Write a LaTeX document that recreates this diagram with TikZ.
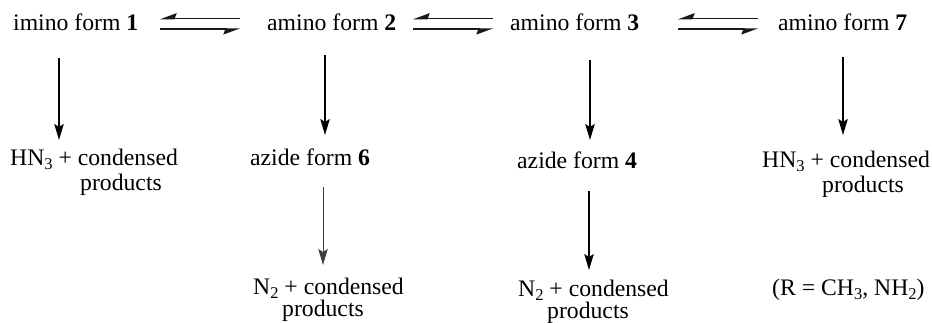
\documentclass[tikz,border=0pt]{standalone}
\usepackage{fontspec}
\setmainfont{Liberation Serif}
\usetikzlibrary{arrows.meta}
\newcommand{\chsub}[1]{\raisebox{-4pt}{\fontsize{16.5}{16.5}\selectfont #1}}
\tikzset{
  lbl/.style={anchor=base west, inner sep=0pt, font=\fontsize{23.7}{25}\selectfont},
  arr/.style={line width=1.3pt, -{Stealth[length=16pt,width=9.5pt,inset=3pt]}},
  thinarr/.style={line width=0.9pt, draw=black!75, -{Stealth[length=16pt,width=9.5pt,inset=3pt]}},
  eqline/.style={line width=1.2pt, draw=black!90, -{Stealth[harpoon,swap,length=15pt,width=11pt,inset=2pt]}}
}
\begin{document}
\begin{tikzpicture}[x=1pt,y=-1pt]
\useasboundingbox[fill=white] (0,0) rectangle (932,322);
% top row
\node[lbl] (f1) at (13,30) {imino form \textbf{1}};
\node[lbl] (f2) at (267,30) {amino form \textbf{2}};
\node[lbl] (f3) at (510,30) {amino form \textbf{3}};
\node[lbl] (f7) at (778,30) {amino form \textbf{7}};
% equilibrium arrows
\coordinate (e1a) at (160,18.7); \coordinate (e1b) at (240,18.7);
\coordinate (e1c) at (160,29);   \coordinate (e1d) at (240,29);
\coordinate (e2a) at (413,18.7); \coordinate (e2b) at (493,18.7);
\coordinate (e2c) at (413,29);   \coordinate (e2d) at (493,29);
\coordinate (e3a) at (678,18.7); \coordinate (e3b) at (758,18.7);
\coordinate (e3c) at (678,29);   \coordinate (e3d) at (758,29);
\draw[eqline] (e1b) -- (e1a);
\draw[eqline] (e1c) -- (e1d);
\draw[eqline] (e2b) -- (e2a);
\draw[eqline] (e2c) -- (e2d);
\draw[eqline] (e3b) -- (e3a);
\draw[eqline] (e3c) -- (e3d);
% second row
\node[lbl] (p1) at (10,165) {HN\chsub{3} + condensed};
\node[lbl] (p1b) at (80,190) {products};
\node[lbl] (az6) at (250,165) {azide form \textbf{6}};
\node[lbl] (az4) at (517,168) {azide form \textbf{4}};
\node[lbl] (p7) at (762,167) {HN\chsub{3} + condensed};
\node[lbl] (p7b) at (822,192) {products};
% bottom row
\node[lbl] (n6) at (253,294) {N\chsub{2} + condensed};
\node[lbl] (n6b) at (282,316) {products};
\node[lbl] (n4) at (518,296.5) {N\chsub{2} + condensed};
\node[lbl] (n4b) at (547,318.5) {products};
\node[lbl] (r) at (772,295) {(R = CH\chsub{3}, NH\chsub{2})};
% vertical arrows
\coordinate (a1s) at (59,58);  \coordinate (a1e) at (59,140);
\coordinate (a2s) at (325,55); \coordinate (a2e) at (325,135);
\coordinate (a3s) at (590,60); \coordinate (a3e) at (590,140);
\coordinate (a4s) at (843,57); \coordinate (a4e) at (843,135);
\coordinate (a5s) at (323,187); \coordinate (a5e) at (323,265);
\coordinate (a6s) at (589,191); \coordinate (a6e) at (589,270);
\draw[arr] (a1s) -- (a1e);
\draw[arr] (a2s) -- (a2e);
\draw[arr] (a3s) -- (a3e);
\draw[arr] (a4s) -- (a4e);
\draw[thinarr] (a5s) -- (a5e);
\draw[arr] (a6s) -- (a6e);
\end{tikzpicture}
\end{document}
